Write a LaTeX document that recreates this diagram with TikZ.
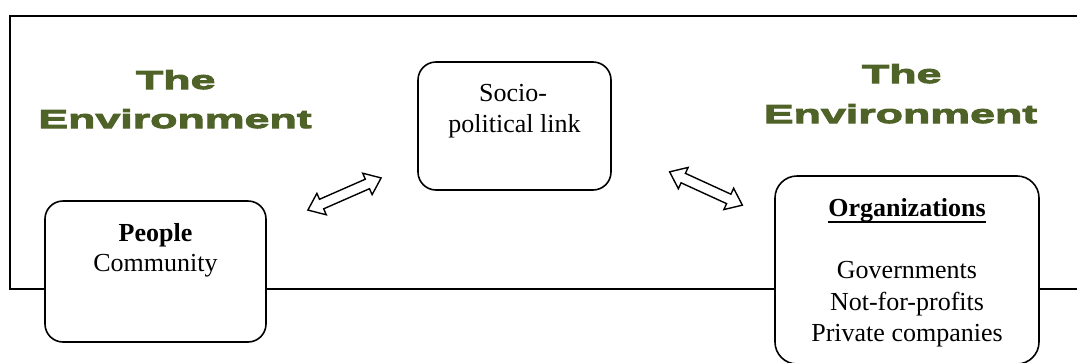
\documentclass[tikz,border=0pt]{standalone}
\usepackage{fontspec}
\setmainfont{Liberation Serif}
\newfontfamily\envfont[FakeStretch=1.72,FakeBold=4]{Liberation Sans}
\usetikzlibrary{shapes.arrows}
\definecolor{envgreen}{HTML}{4F6228}
\begin{document}
\begin{tikzpicture}[x=1pt,y=-1pt,
  frame/.style={line width=2pt},
  box/.style={draw, line width=1.6pt, rounded corners=18pt, fill=white, inner sep=0pt},
  txt/.style={font=\fontsize{26}{31}\selectfont, inner sep=0pt, anchor=base},
  env/.style={font=\envfont\bfseries\fontsize{26}{30}\selectfont, text=envgreen, inner sep=0pt, anchor=base},
  dblarrow/.style={double arrow, draw, line width=1.4pt, fill=white, inner xsep=0pt, inner ysep=4.5pt,
    double arrow head extend=6.5pt, double arrow tip angle=76, minimum height=80pt}]
\useasboundingbox (0,0) rectangle (1077,362);
\clip (0,0) rectangle (1077,362);
% environment frame (open on the right)
\coordinate (ftr) at (1090,16);
\coordinate (ftl) at (10,16);
\coordinate (fbl) at (10,289);
\coordinate (fbr) at (1090,289);
\draw[frame] (ftr) -- (ftl) -- (fbl) -- (fbr);
% titles
\node[env] (envLa) at (175.7,89) {The};
\node[env] (envLb) at (175,128) {Environment};
\node[env] (envRa) at (901.7,83) {The};
\node[env] (envRb) at (900.5,123) {Environment};
% boxes
\node[box, minimum width=221pt, minimum height=141pt] (people) at (155.5,271.5) {};
\node[box, minimum width=193pt, minimum height=128pt] (socio) at (514.5,126) {};
\node[box, rounded corners=22pt, minimum width=264pt, minimum height=188pt] (org) at (907,270) {};
% box texts
\node[txt] (peopleA) at (155.5,241) {\textbf{People}};
\node[txt] (peopleB) at (155.5,271) {Community};
\node[txt] (socioA) at (513,101) {Socio-};
\node[txt] (socioB) at (514.5,132) {political link};
\node[txt] (orgT) at (907,216) {\textbf{Organizations}};
\draw[line width=1.4pt] ([yshift=-6pt]orgT.base west) -- ([yshift=-6pt]orgT.base east);
\node[txt] (orgA) at (907,278) {Governments};
\node[txt] (orgB) at (907,310) {Not-for-profits};
\node[txt] (orgC) at (907,341) {Private companies};
% double arrows
\node[dblarrow, rotate=23.7] (arrL) at (344.5,194) {};
\node[dblarrow, rotate=-24.6] (arrR) at (706,188.5) {};
\end{tikzpicture}
\end{document}
